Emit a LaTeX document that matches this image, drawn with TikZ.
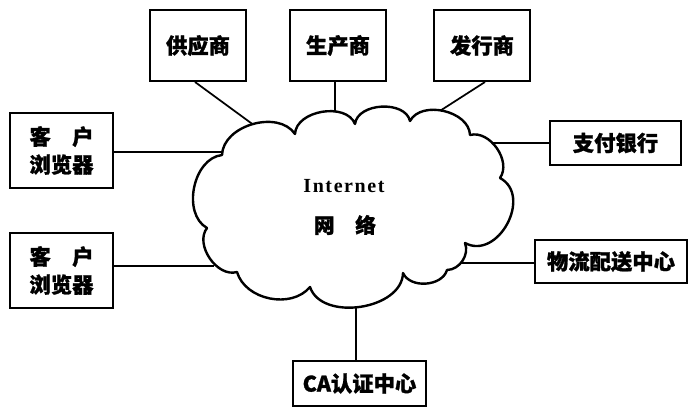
\documentclass[tikz,border=0pt]{standalone}
\usepackage{fontspec}
\newfontfamily\cjk{Noto Sans CJK SC}[BoldFeatures={FakeBold=1.2}]
\newfontfamily\serfam{Liberation Serif}[BoldFeatures={LetterSpace=8}]
\begin{document}
\begin{tikzpicture}[x=0.75pt,y=0.75pt,
  box/.style={draw,line width=1.5pt,inner sep=0pt,align=center,
    font=\cjk\bfseries\fontsize{16}{21}\selectfont},
  topbox/.style={box,minimum width=72pt,minimum height=53.25pt},
  clientbox/.style={box,minimum width=77.25pt,minimum height=56.25pt},
  link/.style={line width=1.3pt},
  cloudline/.style={line width=1.8pt,fill=white,line join=round}]
\useasboundingbox (0,0) rectangle (688,-407);
% boxes
\node[topbox] (sup) at (198,-45.5) {供应商};
\node[topbox] (man) at (338,-45.5) {生产商};
\node[topbox] (pub) at (482,-45.5) {发行商};
\node[clientbox] (c1) at (61.5,-150.5) {客　户\\浏览器};
\node[clientbox] (c2) at (61.5,-270.5) {客　户\\浏览器};
\node[box,minimum width=98.25pt,minimum height=33pt] (bank) at (615.5,-143) {支付银行};
\node[box,minimum width=114pt,minimum height=32.25pt] (log) at (611,-261.5) {物流配送中心};
\node[box,minimum width=99.75pt,minimum height=33.75pt] (ca) at (359.5,-383.5) {CA认证中心};
% attachment points on the cloud
\coordinate (p1) at (228,-152);
\coordinate (p2) at (214,-266);
\coordinate (psup) at (266,-134);
\coordinate (pman) at (335,-124);
\coordinate (ppub) at (432,-116);
\coordinate (pbank) at (484,-143);
\coordinate (plog) at (454,-263);
\coordinate (pca) at (356,-300);
% connectors
\draw[link] (p1 -| c1.east) -- (p1);
\draw[link] (p2 -| c2.east) -- (p2);
\draw[link] (sup.south) ++(-3,0) coordinate (s0) (s0) -- (psup);
\draw[link] (pman |- man.south) -- (pman);
\draw[link] (pub.south) ++(3,0) coordinate (u0) (u0) -- (ppub);
\draw[link] (pbank) -- (pbank -| bank.west);
\draw[link] (plog) -- (plog -| log.west);
\draw[link] (pca) -- (pca |- ca.north);
% cloud
\draw[cloudline] (222,-155)
  to[bend left=72] (295,-134)
  to[bend left=78] (355,-124)
  to[bend left=80] (410,-121)
  to[bend left=75] (470,-135)
  to[bend left=70] (500,-178)
  to[bend left=90,looseness=1.3] (465,-243)
  to[bend left=55] (447,-270)
  to[bend left=70] (403,-273)
  to[bend left=80] (310,-287)
  to[bend left=62] (237,-272)
  to[bend left=72] (207,-228)
  to[bend left=72] (222,-155) -- cycle;
\node[font=\serfam\bfseries\fontsize{15}{18}\selectfont] (inet) at (344,-186) {Internet};
\node[font=\cjk\bfseries\fontsize{15.5}{18}\selectfont] (net) at (345,-225) {网　络};
\end{tikzpicture}
\end{document}
